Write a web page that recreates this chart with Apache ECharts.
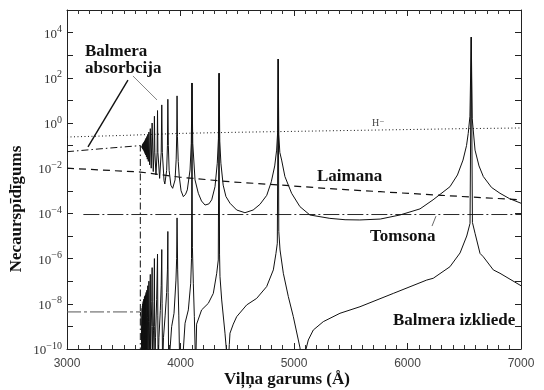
<!DOCTYPE html>
<html>
<head>
<meta charset="utf-8">
<script src="https://cdn.jsdelivr.net/npm/echarts@6/dist/echarts.min.js"></script>
<style>
  html, body { margin: 0; padding: 0; background: #fff; }
  #chart { width: 544px; height: 390px; }
</style>
</head>
<body>
<div id="chart"></div>
<script>
// values are [wavelength (Å), log10 of opacity]
const hMinus = [[3000, -0.62], [3500, -0.55], [4000, -0.46], [4500, -0.41], [5000, -0.37], [5500, -0.33], [6000, -0.29], [6500, -0.25], [7000, -0.22]]
const balmerCont = [[3000, -1.27], [3300, -1.14], [3646, -1.0], [3646, -11]]
const lyman = [[3000, -2.0], [3300, -2.08], [3646, -2.17], [4000, -2.4], [4436, -2.6], [4870, -2.74], [5300, -2.9], [5760, -3.04], [6300, -3.2], [6650, -3.3], [7000, -3.4]]
const thomson = [[3144, -4.05], [7000, -4.05]]
const scatterCont = [[3000, -8.36], [3646, -8.36]]

const balmerAbs = [
  [3646, -1.0], [3655, -1.03], [3658, -1.06],
  [3661.9, -1.0], [3663, -1.1], [3664.3, -0.97], [3665.8, -1.13], [3667.3, -0.94], [3669.2, -1.16],
  [3671.1, -0.9], [3673.5, -1.2], [3676.0, -0.86], [3679.2, -1.25], [3682.4, -0.82], [3684.4, -1.3],
  [3686.4, -0.78], [3688.8, -1.36], [3691.2, -0.73], [3694, -1.42], [3696.8, -0.67], [3700, -1.5],
  [3703.5, -0.6], [3707.5, -1.6], [3711.6, -0.52], [3716.5, -1.7], [3721.5, -0.4], [3727.5, -1.85],
  [3734.0, -0.25], [3742, -2.0], [3750.1, 0.0], [3760, -2.15],
  [3767, -1.2], [3770.2, 0.3], [3774, -1.3], [3784, -2.3],
  [3794, -1.3], [3797.5, 0.55], [3801, -1.3], [3816, -2.45],
  [3830, -1.3], [3835.0, 0.8], [3840, -1.3], [3855, -2.55], [3862, -2.7],
  [3878, -2.1], [3885, -1.0], [3888.6, 1.05], [3893, -1.0], [3900, -2.1], [3915, -2.75], [3931, -2.89],
  [3952, -2.52], [3962, -1.6], [3967, -0.5], [3969.7, 1.2], [3973, -0.6], [3980, -1.7], [3989, -2.37],
  [4005, -3.0], [4025, -3.26], [4045, -3.15], [4060, -2.96], [4084, -2.08], [4095, -0.9],
  [4101.3, 1.77], [4108, -0.9], [4128, -2.52], [4157, -3.11], [4185, -3.45], [4216, -3.63],
  [4250, -3.58], [4275, -3.4], [4304, -2.82], [4324, -1.78], [4334, -0.7],
  [4340, 2.2], [4346, -0.8], [4356, -1.78], [4376, -2.75], [4400, -3.25], [4436, -3.55], [4495, -3.85],
  [4568, -3.97], [4640, -3.85], [4700, -3.6], [4760, -3.2], [4800, -2.6], [4830, -1.9], [4847, -1.2], [4856, -0.4],
  [4860.8, 2.83], [4866, -0.5], [4875, -1.3], [4891, -1.64], [4920, -2.37], [4979, -3.11], [5052, -3.7],
  [5140, -4.07], [5316, -4.22], [5450, -4.28], [5580, -4.29], [5760, -4.25], [5934, -4.07], [6110, -3.8],
  [6225, -3.4], [6374, -2.82], [6440, -2.3], [6489, -1.64], [6520, -1.0], [6535, -0.46], [6550, 0.3],
  [6561.7, 3.8], [6570, 0.2], [6595, -1.2], [6630, -1.9], [6668, -2.37], [6740, -2.85], [6815, -3.11],
  [6900, -3.35], [7000, -3.55]
]

const balmerScat = [
  [3646, -8.36], [3652, -8.6], [3656, -9.2], [3659, -11],
  [3661.9, -8.2], [3663, -11], [3664.3, -8.1], [3665.8, -11], [3667.3, -8.0], [3669, -11],
  [3671.1, -7.9], [3673.5, -11], [3676.0, -7.8], [3679, -11], [3682.4, -7.7], [3684, -11],
  [3686.4, -7.65], [3688.5, -11], [3691.2, -7.6], [3693, -11], [3696.8, -7.5], [3699, -11],
  [3703.5, -7.4], [3705.5, -11], [3709, -8.6], [3711.6, -7.2], [3713.5, -11], [3718, -8.8],
  [3721.5, -7.0], [3724, -11], [3729, -8.8], [3734.0, -6.7], [3736, -11], [3742, -9.0], [3747, -7.9],
  [3750.1, -6.4], [3752, -9.0], [3755, -11], [3762, -9.2], [3767, -7.9],
  [3770.2, -6.0], [3772, -9.0], [3775, -11], [3780, -9.5], [3790, -7.8],
  [3797.5, -5.8], [3800, -8.5], [3803, -11], [3810, -9.5], [3822, -8.3], [3830, -7.2],
  [3835.0, -5.6], [3838, -8.0], [3842, -11], [3850, -9.5], [3865, -8.5], [3878, -7.5], [3885, -6.5],
  [3888.6, -4.8], [3891, -7.5], [3896, -11], [3901, -10.5], [3922, -9.01], [3943, -8.42], [3960, -6.95], [3966, -6.0],
  [3969.7, -4.2], [3975, -6.5], [3985, -8.5], [3994, -11], [4019, -10.5], [4040, -8.86], [4069, -8.27], [4090, -7.09], [4097, -6.0],
  [4101.3, 1.77], [4105, -5.5], [4113, -7.09], [4122, -8.57], [4130, -10.2], [4133, -11], [4142, -8.9],
  [4186, -8.27], [4245, -7.98], [4289, -7.54], [4319, -6.65], [4333, -6.06],
  [4340, 2.2], [4344, -5.8], [4348, -6.8], [4363, -7.83], [4392, -9.3], [4407, -10.2], [4418, -11],
  [4430, -9.8], [4436, -9.3], [4465, -8.9], [4495, -8.57], [4583, -8.05], [4671, -7.76], [4759, -7.24],
  [4818, -6.5], [4841, -5.77], [4853, -5.32],
  [4860.8, 2.83], [4866, -4.8], [4877, -5.62], [4906, -6.65], [4950, -7.68], [4994, -8.57], [5038, -9.6],
  [5053, -9.95], [5075, -11], [5106, -10.0], [5126, -9.6], [5170, -9.16], [5258, -8.79], [5405, -8.42],
  [5581, -8.13], [5875, -7.54], [6169, -6.95], [6227, -6.87], [6374, -6.36], [6463, -5.75], [6522, -5.0], [6551, -4.44],
  [6561.7, 3.8], [6572, -4.4], [6595, -4.88], [6639, -5.77], [6668, -5.92], [6756, -6.5], [6815, -6.65], [7000, -7.2]
]

// annotation pointers, in data coordinates
const pointerAbsA = [[3537, 1.9], [3185, -1.06]]
const pointerAbsB = [[3581, 2.08], [3793, 1.02]]
const pointerThom = [[6216, -4.56], [6251, -4.12]]

const xTicks = { min: 3000, max: 7000, interval: 1000 }
const yExp = { min: -10, max: 5 }

const toVal = arr => arr.map(p => [p[0], Math.pow(10, p[1])])
const serif = '"Liberation Serif", "DejaVu Serif", serif'
const ink = '#111'

function line(name, data, width, type, color) {
  return {
    name: name,
    type: 'line',
    data: toVal(data),
    symbol: 'none',
    silent: true,
    clip: true,
    lineStyle: { color: color || ink, width: width, type: type || 'solid' }
  }
}

function supLabel(v) {
  const e = Math.round(Math.log10(v))
  if (e % 2 !== 0) return ''
  return '{b|10}{s|' + (e < 0 ? '\u2212' + (-e) : e) + '}'
}

const xAxisBase = {
  type: 'value',
  min: xTicks.min,
  max: xTicks.max,
  interval: xTicks.interval,
  axisLine: { lineStyle: { color: '#222', width: 1 } },
  axisTick: { inside: true, length: 6, lineStyle: { color: '#222' } },
  minorTick: { show: true, splitNumber: 10, length: 4, lineStyle: { color: '#333', width: 1 } },
  splitLine: { show: false }
}

const yAxisBase = {
  type: 'log',
  logBase: 10,
  min: Math.pow(10, yExp.min),
  max: Math.pow(10, yExp.max),
  interval: 1,
  axisLine: { show: true, lineStyle: { color: '#222', width: 1 } },
  axisTick: { show: true, inside: true, length: 6, lineStyle: { color: '#222' } },
  splitLine: { show: false }
}

const chart = echarts.init(document.getElementById('chart'))

const option = {
  animation: false,
  backgroundColor: '#fff',
  grid: { left: 67, right: 23, top: 10, bottom: 41 },
  xAxis: [
    Object.assign({}, xAxisBase, {
      position: 'bottom',
      axisLabel: {
        margin: 9,
        formatter: v => String(v),
        fontFamily: '"Liberation Sans", Arial, sans-serif',
        fontSize: 12,
        color: '#444'
      }
    }),
    Object.assign({}, xAxisBase, { position: 'top', axisLabel: { show: false } })
  ],
  yAxis: [
    Object.assign({}, yAxisBase, {
      position: 'left',
      axisLabel: {
        margin: 5,
        formatter: supLabel,
        rich: {
          b: { fontFamily: serif, fontSize: 13, color: '#333', lineHeight: 16, verticalAlign: 'bottom' },
          s: { fontFamily: serif, fontSize: 10, color: '#333', lineHeight: 10, verticalAlign: 'top' }
        }
      }
    }),
    Object.assign({}, yAxisBase, { position: 'right', axisLabel: { show: false } })
  ],
  series: [
    line('H-', hMinus, 1, [1, 2.5]),
    line('Balmera absorbcija kontinuums', balmerCont, 1, [7, 3, 1.5, 3]),
    line('Laimana', lyman, 1.2, [7, 5]),
    line('Tomsona', thomson, 0.9, [16, 3, 2, 3]),
    line('Balmera izkliede kontinuums', scatterCont, 1, [14, 3, 3, 3], '#555'),
    line('Balmera absorbcija', balmerAbs, 1),
    line('Balmera izkliede', balmerScat, 1),
    line('pointer-a', pointerAbsA, 1.4),
    line('pointer-b', pointerAbsB, 0.8, 'solid', '#666'),
    line('pointer-t', pointerThom, 0.8, 'solid', '#444')
  ],
  graphic: [
    { type: 'text', x: 85, y: 52, style: { text: 'Balmera', font: 'bold 17px ' + serif, fill: ink, align: 'left', verticalAlign: 'middle' } },
    { type: 'text', x: 85, y: 69, style: { text: 'absorbcija', font: 'bold 17px ' + serif, fill: ink, align: 'left', verticalAlign: 'middle' } },
    { type: 'text', x: 317, y: 177, style: { text: 'Laimana', font: 'bold 17px ' + serif, fill: ink, align: 'left', verticalAlign: 'middle' } },
    { type: 'text', x: 370, y: 237, style: { text: 'Tomsona', font: 'bold 17px ' + serif, fill: ink, align: 'left', verticalAlign: 'middle' } },
    { type: 'text', x: 393, y: 321, style: { text: 'Balmera izkliede', font: 'bold 17px ' + serif, fill: ink, align: 'left', verticalAlign: 'middle' } },
    { type: 'text', x: 372, y: 123, style: { text: 'H\u207B', font: '10px ' + serif, fill: '#444', align: 'left', verticalAlign: 'middle' } },
    { type: 'text', x: 17, y: 209, rotation: Math.PI / 2, style: { text: 'Necaurspīdīgums', font: 'bold 17px ' + serif, fill: ink, align: 'center', verticalAlign: 'middle' } },
    { type: 'text', x: 287, y: 380, style: { text: 'Viļņa garums (Å)', font: 'bold 17px ' + serif, fill: ink, align: 'center', verticalAlign: 'middle' } }
  ]
}

chart.setOption(option)
window.addEventListener('resize', function () {
  chart.resize()
})
</script>
</body>
</html>
